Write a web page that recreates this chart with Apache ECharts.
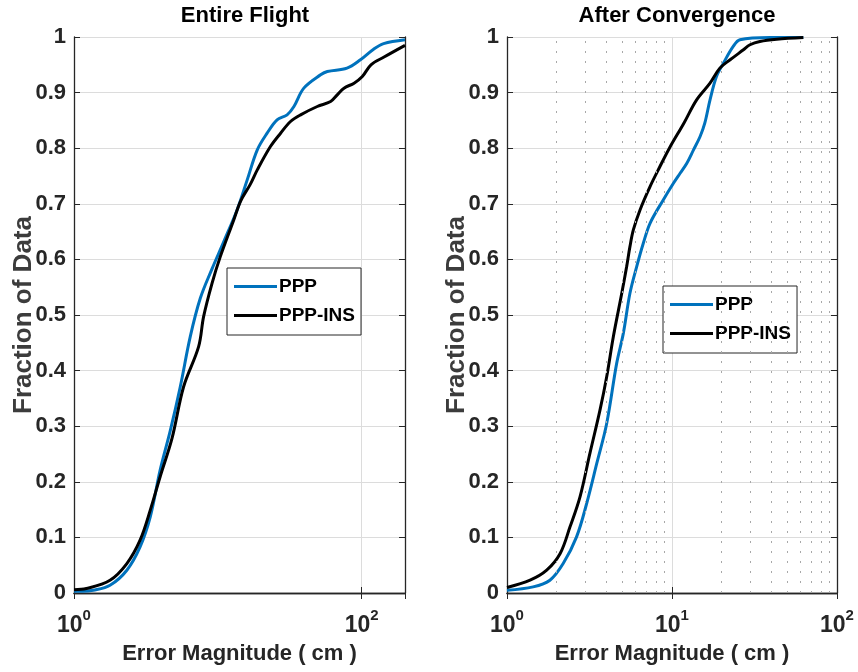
<!DOCTYPE html>
<html>
<head>
<meta charset="utf-8">
<script src="https://cdn.jsdelivr.net/npm/echarts@6/dist/echarts.min.js"></script>
<style>
  html, body { margin: 0; padding: 0; background: #fff; }
  #chart { width: 858px; height: 672px; }
</style>
</head>
<body>
<div id="chart"></div>
<script>
// 数据：误差累积分布（x 为 cm，y 为数据比例）
const entirePppX = [1, 1.15, 1.36, 1.78, 2.33, 2.88, 3.39, 3.97, 4.67, 5.48, 6.43, 7.55, 9.11, 11.0, 13.6, 16.0, 18.8, 22.0, 25.8, 30.3, 33.8, 39.6, 51.8, 57.7, 79, 98, 121, 142, 200];
const entirePppY = [0.003, 0.003, 0.005, 0.014, 0.041, 0.083, 0.137, 0.221, 0.292, 0.371, 0.461, 0.530, 0.583, 0.632, 0.689, 0.743, 0.797, 0.827, 0.851, 0.860, 0.875, 0.908, 0.932, 0.938, 0.944, 0.959, 0.978, 0.988, 0.995];
const entireInsX = [1, 1.22, 1.78, 2.33, 2.88, 3.39, 3.97, 4.80, 5.78, 7.35, 7.96, 9.11, 10.4, 12.9, 14.4, 16.8, 18.8, 23.2, 27.3, 32.0, 37.6, 49.1, 60.8, 67.6, 75.3, 88.5, 101, 116, 143, 200];
const entireInsY = [0.006, 0.008, 0.023, 0.053, 0.095, 0.149, 0.209, 0.278, 0.371, 0.443, 0.497, 0.557, 0.605, 0.671, 0.705, 0.735, 0.761, 0.803, 0.827, 0.848, 0.860, 0.875, 0.884, 0.896, 0.908, 0.917, 0.929, 0.950, 0.964, 0.985];

const convPppX = [1, 1.44, 1.82, 2.19, 2.64, 3.04, 3.50, 4.02, 4.62, 5.07, 5.56, 6.11, 6.70, 7.36, 8.85, 10.2, 11.2, 12.3, 13.5, 14.8, 15.8, 17.0, 18.6, 20.5, 23.5, 25.8, 39.3, 62.5];
const convPppY = [0.005, 0.011, 0.023, 0.053, 0.101, 0.161, 0.233, 0.305, 0.413, 0.467, 0.539, 0.587, 0.629, 0.665, 0.707, 0.737, 0.755, 0.773, 0.797, 0.821, 0.845, 0.887, 0.929, 0.953, 0.983, 0.995, 0.999, 0.999];
const convInsX = [1, 1.38, 1.74, 2.10, 2.41, 2.77, 3.18, 3.66, 4.02, 4.41, 4.96, 5.31, 5.56, 5.83, 6.40, 7.36, 8.45, 9.64, 11.8, 14.1, 17.0, 19.5, 22.5, 27.1, 29.7, 34.1, 43.1, 62.5];
const convInsY = [0.010, 0.023, 0.041, 0.071, 0.119, 0.173, 0.251, 0.329, 0.389, 0.461, 0.539, 0.587, 0.623, 0.653, 0.689, 0.731, 0.767, 0.800, 0.845, 0.887, 0.917, 0.944, 0.959, 0.977, 0.986, 0.992, 0.996, 0.999];

// 右图的次网格（对数刻度 2..9）
const minorTicks = [2, 3, 4, 5, 6, 7, 8, 9, 20, 30, 40, 50, 60, 70, 80, 90];
const yTicks = [0, 0.1, 0.2, 0.3, 0.4, 0.5, 0.6, 0.7, 0.8, 0.9, 1];

const titles = ['Entire Flight', 'After Convergence'];
const seriesNames = ['PPP', 'PPP-INS'];

const FONT = "'Liberation Sans', Arial, sans-serif";
const TXT = '#262626';

const pairs = (xs, ys) => xs.map((x, i) => [x, ys[i]]);

// 10^n 上标格式
const powLabel = (v) => {
  const e = Math.round(Math.log10(v));
  if (Math.abs(Math.pow(10, e) - v) > 1e-9) return '';
  return '{b|10}{s|' + e + '}';
};

const myChart = echarts.init(document.getElementById('chart'));

const makeX = (grid, max, interval, main) => ({
  type: 'log',
  logBase: 10,
  gridIndex: grid,
  min: 1,
  max: max,
  interval: interval,
  position: main ? 'bottom' : 'top',
  name: main ? 'Error Magnitude ( cm )' : '',
  nameLocation: 'middle',
  nameGap: 50,
  nameTextStyle: { color: TXT, fontFamily: FONT, fontWeight: 'bold', fontSize: 22 },
  axisLine: { show: true, lineStyle: { color: TXT, width: 1.3 } },
  axisTick: { show: true, inside: true, length: 6, lineStyle: { color: TXT } },
  axisLabel: main ? {
    show: true,
    margin: 20,
    formatter: powLabel,
    showMaxLabel: max === 100,
    rich: {
      b: { color: TXT, fontFamily: FONT, fontWeight: 'bold', fontSize: 23, lineHeight: 24, verticalAlign: 'bottom' },
      s: { color: TXT, fontFamily: FONT, fontWeight: 'bold', fontSize: 15, lineHeight: 15, verticalAlign: 'bottom', padding: [0, 0, 14, 0] },
    },
  } : { show: false },
  splitLine: main ? { show: true, lineStyle: { color: '#dcdcdc', width: 1 } } : { show: false },
});

const makeY = (grid, main) => ({
  type: 'value',
  gridIndex: grid,
  min: 0,
  max: 1,
  interval: 0.1,
  position: main ? 'left' : 'right',
  name: main ? 'Fraction of Data' : '',
  nameLocation: 'middle',
  nameRotate: 90,
  nameGap: 37,
  nameMoveOverlap: false,
  nameTextStyle: { color: '#3c3c3c', fontFamily: FONT, fontWeight: 'bold', fontSize: 26 },
  axisLine: { show: true, lineStyle: { color: TXT, width: 1.3 } },
  axisTick: { show: true, inside: true, length: 6, lineStyle: { color: TXT } },
  axisLabel: main ? {
    show: true,
    margin: 8,
    color: TXT,
    fontFamily: FONT,
    fontWeight: 'bold',
    fontSize: 22,
    formatter: (v) => {
      const t = yTicks.find(k => Math.abs(k - v) < 1e-6);
      return t === undefined ? '' : String(t);
    },
  } : { show: false },
  splitLine: main ? { show: true, lineStyle: { color: '#dcdcdc', width: 1 } } : { show: false },
});

const lineSeries = (name, xi, yi, data, color) => ({
  name: name,
  type: 'line',
  xAxisIndex: xi,
  yAxisIndex: yi,
  data: data,
  showSymbol: false,
  smooth: 0.35,
  lineStyle: { color: color, width: 3 },
  itemStyle: { color: color },
  z: 3,
});

const legendOf = (left, top) => ({
  left: left,
  top: top,
  orient: 'vertical',
  data: seriesNames,
  icon: 'rect',
  itemWidth: 43,
  itemHeight: 3,
  itemGap: 8,
  padding: [8, 6, 9, 7],
  backgroundColor: '#ffffff',
  borderColor: TXT,
  borderWidth: 1,
  borderRadius: 0,
  textStyle: { color: '#000', fontFamily: FONT, fontWeight: 'bold', fontSize: 19, lineHeight: 21, padding: [0, 0, 0, -3] },
});

const option = {
  backgroundColor: '#ffffff',
  animation: false,
  title: [
    { text: titles[0], left: 240, top: 0, textAlign: 'center',
      textStyle: { color: '#000', fontFamily: FONT, fontWeight: 'bold', fontSize: 22 } },
    { text: titles[1], left: 672, top: 0, textAlign: 'center',
      textStyle: { color: '#000', fontFamily: FONT, fontWeight: 'bold', fontSize: 22 } },
  ],
  legend: [legendOf(227, 268), legendOf(663, 286)],
  grid: [
    { left: 74, right: 453, top: 37, bottom: 79 },
    { left: 507, right: 21, top: 37, bottom: 79 },
  ],
  xAxis: [
    makeX(0, 200, 2, true),
    makeX(1, 100, 1, true),
    makeX(0, 200, 2, false),
    makeX(1, 100, 1, false),
  ],
  yAxis: [
    makeY(0, true),
    makeY(1, true),
    makeY(0, false),
    makeY(1, false),
  ],
  series: [
    {
      name: 'minor-grid',
      type: 'line',
      xAxisIndex: 1,
      yAxisIndex: 1,
      data: [],
      silent: true,
      z: 1,
      markLine: {
        silent: true,
        symbol: ['none', 'none'],
        label: { show: false },
        lineStyle: { color: '#a8a8a8', type: [2, 8], width: 1 },
        data: minorTicks.map(v => ({ xAxis: v })),
      },
    },
    lineSeries(seriesNames[0], 0, 0, pairs(entirePppX, entirePppY), '#0072BD'),
    lineSeries(seriesNames[1], 0, 0, pairs(entireInsX, entireInsY), '#000000'),
    lineSeries(seriesNames[0], 1, 1, pairs(convPppX, convPppY), '#0072BD'),
    lineSeries(seriesNames[1], 1, 1, pairs(convInsX, convInsY), '#000000'),
  ],
};

myChart.setOption(option);
window.addEventListener('resize', () => myChart.resize());
</script>
</body>
</html>
